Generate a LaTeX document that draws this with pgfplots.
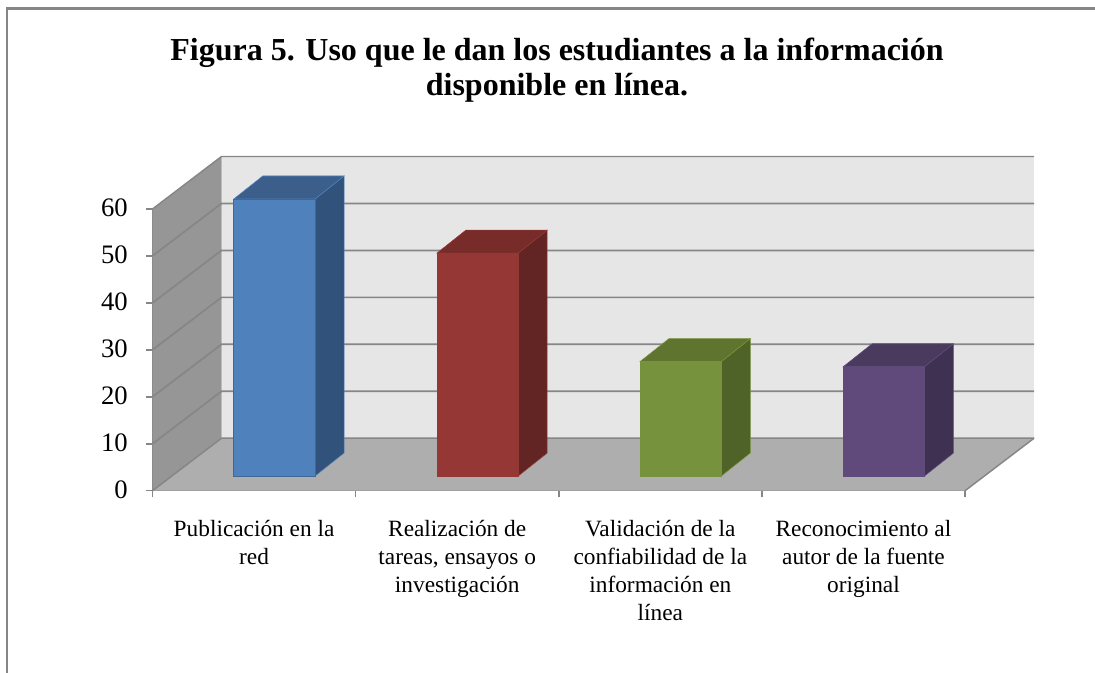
\documentclass[border=0pt]{standalone}
\usepackage{pgfplots}
\pgfplotsset{compat=1.18}
\usepackage{fontspec}
\setmainfont{Liberation Serif}
\definecolor{frame}{HTML}{868686}
\definecolor{wallL}{HTML}{969696}
\definecolor{wallB}{HTML}{E6E6E6}
\definecolor{floorC}{HTML}{AEAEAE}
\definecolor{bluF}{HTML}{4F81BD}\definecolor{bluS}{HTML}{31527A}\definecolor{bluT}{HTML}{3B5F8A}
\definecolor{redF}{HTML}{953735}\definecolor{redS}{HTML}{632523}\definecolor{redT}{HTML}{772C2A}
\definecolor{greF}{HTML}{76923C}\definecolor{greS}{HTML}{4F6228}\definecolor{greT}{HTML}{5F752F}
\definecolor{purF}{HTML}{604A7B}\definecolor{purS}{HTML}{3F3151}\definecolor{purT}{HTML}{4A3B5E}
\begin{document}
\begin{tikzpicture}[x=0.75pt,y=0.75pt]
\path[use as bounding box] (0,0) rectangle (1095,673);
\draw[frame,line width=2.1pt] (7,0) -- (7,664.5) -- (1095,664.5);
\node[font=\fontsize{24}{26}\selectfont\bfseries,align=center,anchor=center] at (557,603) {Figura 5. Uso que le dan los estudiantes a la información\\disponible en línea.};
\begin{axis}[
  at={(114.375pt,136.7pt)},anchor=south west,
  scale only axis,width=609.4pt,height=211.3pt,
  xmin=0.5,xmax=4.5,ymin=0,ymax=60,clip=false,
  axis x line=bottom,axis y line=left,
  axis line style={-,frame,line width=1.1pt},
  tick style={frame,line width=1.1pt},
  major tick length=5pt,minor tick length=5pt,tick align=outside,
  ytick={0,10,...,60},
  xtick={1,2,3,4},
  minor xtick={0.5,1.5,2.5,3.5,4.5},
  major x tick style={draw=none},
  xticklabels={{Publicación en la\\red},{Realización de\\tareas, ensayos o\\investigación},{Validación de la\\confiabilidad de la\\información en\\línea},{Reconocimiento al\\autor de la fuente\\original}},
  xticklabel style={align=center,font=\fontsize{17.5}{21}\selectfont,anchor=north,yshift=-14pt},
  yticklabel style={font=\fontsize{20}{20}\selectfont,xshift=-10pt,yshift=1pt},
  /pgf/number format/assume math mode=true,
]
% walls
\addplot[fill=wallL,draw=none] coordinates {(0.5,0) (0.8397,11.18) (0.8397,71.18) (0.5,60)} --cycle;
\addplot[fill=wallB,draw=none] coordinates {(0.8397,11.18) (4.8397,11.18) (4.8397,71.18) (0.8397,71.18)} --cycle;
\addplot[fill=floorC,draw=none] coordinates {(0.5,0) (4.5,0) (4.8397,11.18) (0.8397,11.18)} --cycle;
% gridlines
\addplot[frame,line width=1.1pt] coordinates {(0.5,0) (0.8397,11.18) (4.8397,11.18)};
\addplot[frame,line width=1.3pt] coordinates {(0.5,10) (0.8397,21.18) (4.8397,21.18)};
\addplot[frame,line width=1.3pt] coordinates {(0.5,20) (0.8397,31.18) (4.8397,31.18)};
\addplot[frame,line width=1.3pt] coordinates {(0.5,30) (0.8397,41.18) (4.8397,41.18)};
\addplot[frame,line width=1.3pt] coordinates {(0.5,40) (0.8397,51.18) (4.8397,51.18)};
\addplot[frame,line width=1.3pt] coordinates {(0.5,50) (0.8397,61.18) (4.8397,61.18)};
\addplot[frame,line width=1.1pt] coordinates {(0.5,60) (0.8397,71.18) (4.8397,71.18)};
\addplot[frame,line width=1.1pt] coordinates {(4.5,0) (4.8397,11.18)};
% blue
\addplot[fill=bluS,draw=bluF,line width=0.4pt] coordinates {(1.3,3.13) (1.4428,8.03) (1.4428,67.03) (1.3,62.13)} --cycle;
\addplot[fill=bluT,draw=bluF,line width=0.4pt] coordinates {(0.9,62.13) (1.3,62.13) (1.4428,67.03) (1.0428,67.03)} --cycle;
\addplot[fill=bluF,draw=bluF!80!black,line width=0.5pt] coordinates {(0.9,3.13) (1.3,3.13) (1.3,62.13) (0.9,62.13)} --cycle;
% red
\addplot[fill=redS,draw=redF,line width=0.4pt] coordinates {(2.3,3.13) (2.4428,8.03) (2.4428,55.5) (2.3,50.6)} --cycle;
\addplot[fill=redT,draw=redF,line width=0.4pt] coordinates {(1.9,50.6) (2.3,50.6) (2.4428,55.5) (2.0428,55.5)} --cycle;
\addplot[fill=redF,draw=redF,line width=0.4pt] coordinates {(1.9,3.13) (2.3,3.13) (2.3,50.6) (1.9,50.6)} --cycle;
% green
\addplot[fill=greS,draw=greF,line width=0.4pt] coordinates {(3.3,3.13) (3.4428,8.03) (3.4428,32.4) (3.3,27.5)} --cycle;
\addplot[fill=greT,draw=greF,line width=0.4pt] coordinates {(2.9,27.5) (3.3,27.5) (3.4428,32.4) (3.0428,32.4)} --cycle;
\addplot[fill=greF,draw=greF,line width=0.4pt] coordinates {(2.9,3.13) (3.3,3.13) (3.3,27.5) (2.9,27.5)} --cycle;
% purple
\addplot[fill=purS,draw=purF,line width=0.4pt] coordinates {(4.3,3.13) (4.4428,8.03) (4.4428,31.3) (4.3,26.4)} --cycle;
\addplot[fill=purT,draw=purF,line width=0.4pt] coordinates {(3.9,26.4) (4.3,26.4) (4.4428,31.3) (4.0428,31.3)} --cycle;
\addplot[fill=purF,draw=purF,line width=0.4pt] coordinates {(3.9,3.13) (4.3,3.13) (4.3,26.4) (3.9,26.4)} --cycle;
\end{axis}
\end{tikzpicture}
\end{document}
